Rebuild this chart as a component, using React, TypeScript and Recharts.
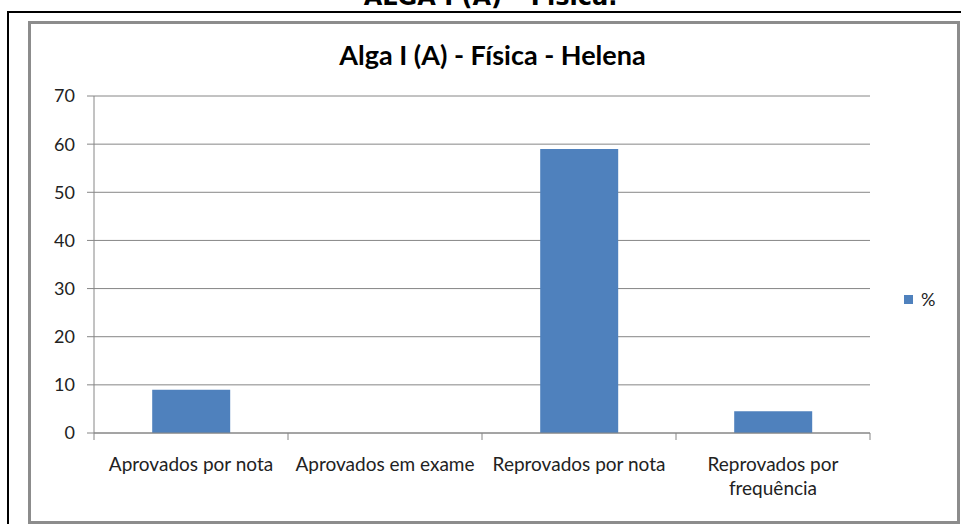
import React from 'react';
import { BarChart, Bar, XAxis, YAxis, CartesianGrid } from 'recharts';

const categories = ['Aprovados por nota', 'Aprovados em exame', 'Reprovados por nota', 'Reprovados por frequência'];
const tickLabels = [['Aprovados por nota'], ['Aprovados em exame'], ['Reprovados por nota'], ['Reprovados por', 'frequência']];
const percent = [9, 0, 59, 4.5];
const yTicks = [0, 10, 20, 30, 40, 50, 60, 70];

const data = categories.map((name, i) => ({ name, pct: percent[i] }));

const FONT = 'Lato, "Liberation Sans", sans-serif';
const GRAY = '#868686';
const BLUE = '#4F81BD';

const CategoryTick = ({ x, y, payload, index, width, visibleTicksCount }: any) => {
  const half = width / visibleTicksCount / 2;
  const lines = tickLabels[index] || [payload.value];
  return (
    <g>
      <line x1={x - half} y1={y - 8} x2={x - half} y2={y - 1} stroke={GRAY} />
      {index === visibleTicksCount - 1 && (
        <line x1={x + half} y1={y - 8} x2={x + half} y2={y - 1} stroke={GRAY} />
      )}
      <text x={x} y={y + 30} textAnchor="middle" fontFamily={FONT} fontSize={19} fill="#222">
        {lines.map((l: string, k: number) => (
          <tspan key={k} x={x} dy={k === 0 ? 0 : 24}>{l}</tspan>
        ))}
      </text>
    </g>
  );
};

export default function App() {
  return (
    <div style={{ position: 'absolute', left: 0, top: 0, width: 961, height: 524, overflow: 'hidden', background: '#fff' }}>
      {/* page heading, cut off at the top */}
      <div style={{ position: 'absolute', left: 10, width: 961, top: -17, textAlign: 'center', fontFamily: '"DejaVu Sans", Verdana, sans-serif', fontWeight: 'bold', fontSize: 24, color: '#000', whiteSpace: 'nowrap' }}>
        ALGA I (A) – Física.
      </div>
      {/* black table frame */}
      <div style={{ position: 'absolute', left: 7, top: 11, width: 1000, height: 600, borderLeft: '2px solid #000', borderTop: '2px solid #000' }} />
      {/* gray chart frame */}
      <div style={{ position: 'absolute', left: 28, top: 21, width: 926, height: 497, border: '3px solid #8c8c8c', background: '#fff' }} />
      <div style={{ position: 'absolute', left: 0, width: 961, top: 38, textAlign: 'center', paddingLeft: 24, boxSizing: 'border-box', fontFamily: FONT, fontWeight: 'bold', fontSize: 27, color: '#000' }}>
        Alga I (A) - Física - Helena
      </div>
      <div style={{ position: 'absolute', left: 0, top: 0 }}>
        <BarChart width={961} height={524} data={data} margin={{ top: 96, right: 91, left: 34, bottom: 31 }} barCategoryGap="30%">
          <CartesianGrid horizontal vertical={false} stroke={GRAY} />
          <XAxis dataKey="name" interval={0} height={60} axisLine={{ stroke: GRAY }} tickLine={false} tick={<CategoryTick />} />
          <YAxis
            domain={[0, 70]}
            ticks={yTicks}
            width={60}
            axisLine={{ stroke: GRAY }}
            tickLine={{ stroke: GRAY }}
            tickSize={7}
            tickMargin={12}
            tick={{ fontFamily: FONT, fontSize: 18, fill: '#222' }}
          />
          <Bar dataKey="pct" name="%" fill={BLUE} isAnimationActive={false} />
        </BarChart>
      </div>
      {/* legend */}
      <div style={{ position: 'absolute', left: 904, top: 288, display: 'flex', alignItems: 'center', fontFamily: FONT, fontSize: 18, color: '#222' }}>
        <div style={{ width: 9, height: 9, background: BLUE, marginRight: 8 }} />
        <span>%</span>
      </div>
    </div>
  );
}
